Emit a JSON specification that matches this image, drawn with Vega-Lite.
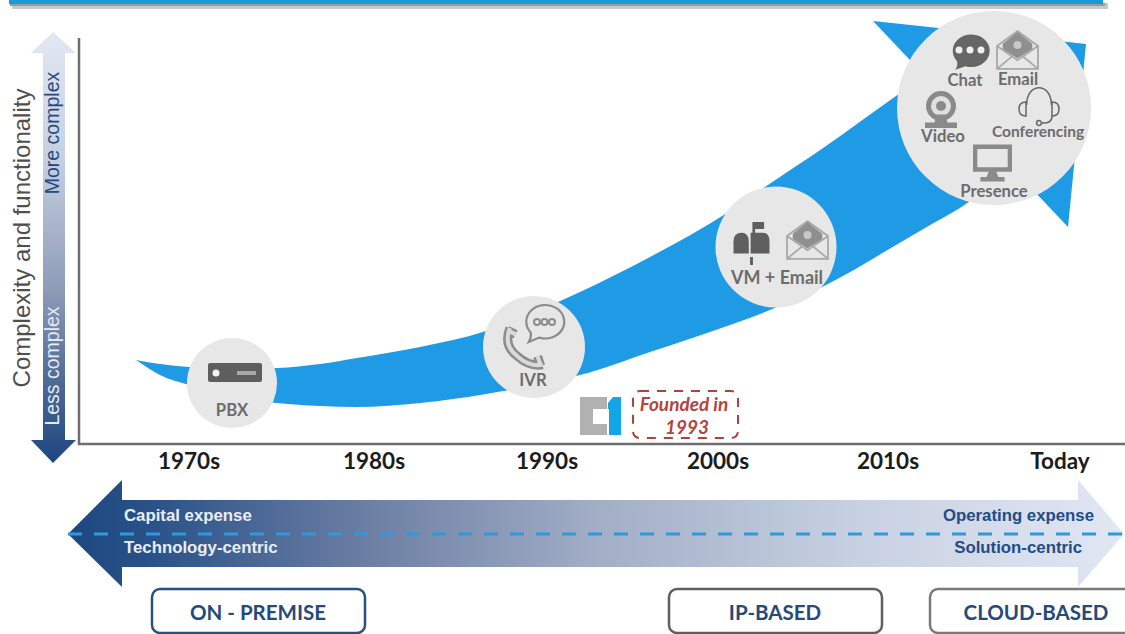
{
"$schema":"https://vega.github.io/schema/vega-lite/v6.json",
"width":1125,"height":634,"padding":0,
"autosize":{"type":"fit","contains":"padding"},
"background":"white",
"config":{"view":{"stroke":null},"text":{"font":"Lato","fontWeight":"bold","baseline":"middle","align":"center"}},
"data":{"values":[{}]},
"encoding":{
 "x":{"field":"x","type":"quantitative","scale":{"domain":[0,1125],"nice":false,"zero":false},"axis":null},
 "y":{"field":"y","type":"quantitative","scale":{"domain":[0,634],"reverse":true,"nice":false,"zero":false},"axis":null}
},
"layer":[
{"data":{"values":[{"x":12,"x2":1108,"y":3,"y2":9}]},"mark":{"type":"rect","fill":"#c9c9c9"},"encoding":{"x2":{"field":"x2"},"y2":{"field":"y2"}}},
{"data":{"values":[{"x":10,"x2":1105,"y":3,"y2":6}]},"mark":{"type":"rect","fill":"#9a9a9a"},"encoding":{"x2":{"field":"x2"},"y2":{"field":"y2"}}},
{"data":{"values":[{"x":9,"x2":1103,"y":0,"y2":4}]},"mark":{"type":"rect","fill":"#1B9ADB"},"encoding":{"x2":{"field":"x2"},"y2":{"field":"y2"}}},

{"data":{"values":[
 {"x":136,"y":360,"y2":360},{"x":160,"y":364,"y2":375},{"x":189,"y":367,"y2":385},{"x":230,"y":369,"y2":396},
 {"x":277,"y":368,"y2":403},{"x":320,"y":364,"y2":406},{"x":357,"y":358,"y2":407},{"x":420,"y":347,"y2":403},
 {"x":486,"y":331,"y2":394},{"x":503,"y":325,"y2":391},{"x":558,"y":302,"y2":380},{"x":580,"y":292,"y2":375},
 {"x":650,"y":257,"y2":352},{"x":730,"y":211,"y2":325},{"x":765,"y":187,"y2":312},{"x":826,"y":146,"y2":285},
 {"x":896,"y":96,"y2":245},{"x":925,"y":76,"y2":228},{"x":970,"y":66,"y2":201},{"x":1010,"y":58,"y2":166}
]},"mark":{"type":"area","orient":"vertical","interpolate":"monotone","fill":"#1F9BE6"},"encoding":{"y2":{"field":"y2"}}},
{"data":{"values":[{"x":873,"y":21,"y2":21},{"x":1068,"y":42,"y2":227},{"x":1086,"y":44,"y2":44}]},
 "mark":{"type":"area","orient":"vertical","fill":"#1F9BE6"},"encoding":{"y2":{"field":"y2"}}},

{"data":{"values":[{"x":79,"y":38,"x2":79,"y2":445},{"x":78,"y":444,"x2":1125,"y2":444}]},
 "mark":{"type":"rule","stroke":"#6e6e6e","strokeWidth":2.5,"clip":true},"encoding":{"x2":{"field":"x2"},"y2":{"field":"y2"}}},

{"data":{"values":[{"y":32,"x":53,"x2":53},{"y":53,"x":31,"x2":76},{"y":53.01,"x":43,"x2":65},{"y":440,"x":43,"x2":65},{"y":440.01,"x":31,"x2":76},{"y":463,"x":53,"x2":53}]},
 "mark":{"type":"area","orient":"horizontal","fill":{"gradient":"linear","x1":0,"y1":0,"x2":0,"y2":1,"stops":[{"offset":0,"color":"#E2E8F3"},{"offset":0.3,"color":"#C5CFE0"},{"offset":0.6,"color":"#8D9BB8"},{"offset":0.8,"color":"#516C98"},{"offset":1,"color":"#1C4780"}]}},
 "encoding":{"x2":{"field":"x2"}}},
{"data":{"values":[{"x":53,"y":133,"label":"More complex"}]},"mark":{"type":"text","font":"Liberation Sans","fontWeight":"normal","fontSize":19.5,"angle":270,"fill":"#24497F"},"encoding":{"text":{"field":"label"}}},
{"data":{"values":[{"x":53,"y":366,"label":"Less complex"}]},"mark":{"type":"text","font":"Liberation Sans","fontWeight":"normal","fontSize":19.5,"angle":270,"fill":"#E6EAF2"},"encoding":{"text":{"field":"label"}}},
{"data":{"values":[{"x":23,"y":238,"label":"Complexity and functionality"}]},"mark":{"type":"text","font":"Liberation Sans","fontWeight":"normal","fontSize":24,"angle":270,"fill":"#4F4F4F"},"encoding":{"text":{"field":"label"}}},

{"data":{"values":[{"x":232,"y":383}]},"mark":{"type":"point","shape":"circle","filled":true,"size":8100,"fill":"#E7E7E7","opacity":1}},
{"data":{"values":[{"x":534,"y":347}]},"mark":{"type":"point","shape":"circle","filled":true,"size":10404,"fill":"#E7E7E7","opacity":1}},
{"data":{"values":[{"x":776,"y":247}]},"mark":{"type":"point","shape":"circle","filled":true,"size":14641,"fill":"#E7E7E7","opacity":1}},
{"data":{"values":[{"x":994,"y":108}]},"mark":{"type":"point","shape":"circle","filled":true,"size":37636,"fill":"#E7E7E7","opacity":1}},

{"data":{"values":[{"x":208,"x2":262,"y":363,"y2":382}]},"mark":{"type":"rect","fill":"#5E5E5E","cornerRadius":2},"encoding":{"x2":{"field":"x2"},"y2":{"field":"y2"}}},
{"data":{"values":[{"x":216,"y":373}]},"mark":{"type":"point","shape":"circle","filled":true,"size":49,"fill":"#F2F2F2","opacity":1}},
{"data":{"values":[{"x":237,"x2":256,"y":371,"y2":375}]},"mark":{"type":"rect","fill":"#A8A8A8"},"encoding":{"x2":{"field":"x2"},"y2":{"field":"y2"}}},

{"data":{"values":[{"x":525,"y":348}]},"mark":{"type":"point","filled":false,"shape":"M-.85,-.85 L-.45,-.65 M-.72,-.95 Q-1.05,-.1 -.35,.4 Q.2,.9 .85,.8 M.75,.85 L.6,.4","size":1764,"stroke":"#8C8C8C","strokeWidth":9,"opacity":1}},
{"data":{"values":[{"x":525,"y":348}]},"mark":{"type":"point","filled":false,"shape":"M-.85,-.85 L-.45,-.65 M-.72,-.95 Q-1.05,-.1 -.35,.4 Q.2,.9 .85,.8 M.75,.85 L.6,.4","size":1764,"stroke":"#DADADA","strokeWidth":4,"opacity":1}},
{"data":{"values":[{"x":544,"y":322}]},"mark":{"type":"point","filled":true,"shape":"M-.7,.55 A1 .88 0 1 1 -.25,.82 L-.8,1.05 Q-.65,.8 -.7,.55 Z","size":1444,"fill":"#E7E7E7","stroke":"#8C8C8C","strokeWidth":2.2,"opacity":1}},
{"data":{"values":[{"x":537,"y":322},{"x":544.5,"y":322},{"x":552,"y":322}]},"mark":{"type":"point","shape":"circle","filled":false,"size":36,"stroke":"#8C8C8C","strokeWidth":2,"opacity":1}},

{"data":{"values":[{"x":751.5,"y":243.5}]},"mark":{"type":"point","filled":true,"fill":"#5F5F5F","opacity":1,"size":1296,"shape":"M-1,.55 L-1,-.1 Q-1,-.6 -.55,-.6 Q-.15,-.6 -.15,-.1 L-.15,.55 Z M-.05,-.6 L.65,-.6 Q1,-.6 1,-.1 L1,.55 L-.05,.55 L-.05,-.1 Z M.05,-1.2 L.7,-1.2 L.7,-.8 L.2,-.8 L.2,-.3 L.05,-.3 Z M-.08,.75 L.08,.75 L.08,1.2 L-.08,1.2 Z"}},

{"data":{"values":[{"x":807.5,"y":240},{"x":1017.5,"y":50}]},"mark":{"type":"point","filled":false,"stroke":"#A8A8A8","strokeWidth":1.8,"opacity":1,"size":1680,"shape":"M-1,-.2 L0,-.92 L1,-.2 L1,.92 L-1,.92 Z M-1,.92 L-.25,.3 M1,.92 L.25,.3 M-1,-.2 L0,.5 L1,-.2"}},
{"data":{"values":[{"x":807.5,"y":240},{"x":1017.5,"y":50}]},"mark":{"type":"point","filled":true,"fill":"#8F8F8F","opacity":1,"size":1680,"shape":"M-.72,-.3 L0,-.88 L.72,-.3 L.72,-.05 L0,.42 L-.72,-.05 Z"}},
{"data":{"values":[{"x":807.5,"y":235},{"x":1017.5,"y":45}]},"mark":{"type":"point","shape":"circle","filled":true,"fill":"#C8C8C8","size":64,"opacity":1}},

{"data":{"values":[{"x":970,"y":51}]},"mark":{"type":"point","filled":true,"fill":"#666666","opacity":1,"size":1368,"shape":"M-.7,.55 A1 .88 0 1 1 -.25,.82 L-.8,1.02 Q-.65,.8 -.7,.55 Z"}},
{"data":{"values":[{"x":959,"y":50},{"x":970,"y":50},{"x":981,"y":50}]},"mark":{"type":"point","shape":"circle","filled":true,"fill":"#F0F0F0","size":49,"opacity":1}},

{"data":{"values":[{"x":941,"y":106}]},"mark":{"type":"point","shape":"circle","filled":true,"fill":"#E0E0E0","stroke":"#8A8A8A","strokeWidth":5,"size":625,"opacity":1}},
{"data":{"values":[{"x":941,"y":106}]},"mark":{"type":"point","shape":"circle","filled":true,"fill":"#8A8A8A","size":100,"opacity":1}},
{"data":{"values":[{"x":941,"y":122.4}]},"mark":{"type":"point","filled":true,"fill":"#8A8A8A","opacity":1,"size":1024,"shape":"M-.3,-.5 L.3,-.5 L.4,0 L1,0 L1,.35 L-1,.35 L-1,0 L-.4,0 Z"}},

{"data":{"values":[{"x":1039,"y":106}]},"mark":{"type":"point","filled":false,"stroke":"#666666","strokeWidth":1.5,"opacity":1,"size":1600,"shape":"M-.62,-.05 C-.62,-1.2 .62,-1.2 .62,-.05 M-.65,-.2 L-.65,.5 Q-1,.5 -1,.15 Q-1,-.2 -.65,-.2 Z M.65,-.2 L.65,.5 Q1,.5 1,.15 Q1,-.2 .65,-.2 Z M.65,.5 Q.65,.9 .12,.85 M.12,.85 A.12 .12 0 1 0 -.12,.85 A.12 .12 0 1 0 .12,.85"}},

{"data":{"values":[{"x":992.5,"y":163}]},"mark":{"type":"point","filled":true,"fill":"#8A8A8A","opacity":1,"size":1520,"shape":"M-1,-.95 L1,-.95 L1,.45 L-1,.45 Z M-.78,-.72 L-.78,.22 L.78,.22 L.78,-.72 Z M-.2,.45 L.2,.45 L.3,.72 L-.3,.72 Z M-.62,.72 L.62,.72 L.62,.95 L-.62,.95 Z"}},

{"data":{"values":[
 {"x":232,"y":411,"label":"PBX"},{"x":533,"y":381,"label":"IVR"},
 {"x":965,"y":81,"label":"Chat"},{"x":1018,"y":80,"label":"Email"},{"x":943,"y":137,"label":"Video"},
 {"x":994,"y":192,"label":"Presence"}
]},"mark":{"type":"text","fontSize":16.7,"fill":"#6C6C6C"},"encoding":{"text":{"field":"label"}}},
{"data":{"values":[{"x":777,"y":279,"label":"VM + Email"}]},"mark":{"type":"text","fontSize":18,"fill":"#6C6C6C"},"encoding":{"text":{"field":"label"}}},
{"data":{"values":[{"x":1038,"y":132,"label":"Conferencing"}]},"mark":{"type":"text","fontSize":15.5,"fill":"#6C6C6C"},"encoding":{"text":{"field":"label"}}},

{"data":{"values":[{"x":580,"y":397}]},"mark":{"type":"point","filled":true,"fill":"#B1B1B1","opacity":1,"size":4,"shape":"M0,0 L27,0 L27,12 L13,12 L13,27 L27,27 L27,38 L0,38 Z"}},
{"data":{"values":[{"x":580,"y":397}]},"mark":{"type":"point","filled":true,"fill":"#12A5E8","opacity":1,"size":4,"shape":"M28,6 L33,0 L41,0 L41,38 L29,38 L29,12 L28,12 Z"}},
{"data":{"values":[{"x":633,"x2":738,"y":391,"y2":438}]},"mark":{"type":"rect","fillOpacity":0,"stroke":"#B5403A","strokeWidth":2,"strokeDash":[9,8],"cornerRadius":7},"encoding":{"x2":{"field":"x2"},"y2":{"field":"y2"}}},
{"data":{"values":[{"x":684,"y":405,"label":"Founded in"},{"x":687,"y":428,"label":"1993"}]},"mark":{"type":"text","fontSize":19,"fontStyle":"italic","font":"Lato","fill":"#B5433E"},"encoding":{"text":{"field":"label"}}},

{"data":{"values":[{"x":189,"y":462,"label":"1970s"},{"x":374,"y":462,"label":"1980s"},{"x":547,"y":462,"label":"1990s"},{"x":718,"y":462,"label":"2000s"},{"x":888,"y":462,"label":"2010s"},{"x":1060,"y":462,"label":"Today"}]},
 "mark":{"type":"text","fontSize":22.5,"fill":"#1C1C1C"},"encoding":{"text":{"field":"label"}}},

{"data":{"values":[{"x":68,"y":534,"y2":534},{"x":122,"y":480,"y2":587},{"x":122.01,"y":500,"y2":567},{"x":1078,"y":500,"y2":567},{"x":1078.01,"y":480,"y2":587},{"x":1124,"y":534,"y2":534}]},
 "mark":{"type":"area","orient":"vertical","fill":{"gradient":"linear","x1":0,"y1":0,"x2":1,"y2":0,"stops":[{"offset":0,"color":"#1C4780"},{"offset":0.08,"color":"#2A5288"},{"offset":0.28,"color":"#6B7EA3"},{"offset":0.5,"color":"#A2AEC6"},{"offset":0.75,"color":"#C8D1E2"},{"offset":1,"color":"#E1E7F3"}]}},
 "encoding":{"y2":{"field":"y2"}}},
{"data":{"values":[{"x":68,"y":534,"x2":1125,"y2":534}]},"mark":{"type":"rule","stroke":"#2A9CDD","strokeWidth":3,"strokeDash":[14,12],"clip":true},"encoding":{"x2":{"field":"x2"},"y2":{"field":"y2"}}},
{"data":{"values":[{"x":124,"y":516,"label":"Capital expense"},{"x":124,"y":548,"label":"Technology-centric"}]},"mark":{"type":"text","font":"Liberation Sans","fontSize":16.8,"align":"left","fill":"#E9EDF4"},"encoding":{"text":{"field":"label"}}},
{"data":{"values":[{"x":1094,"y":516,"label":"Operating expense"},{"x":1082,"y":548,"label":"Solution-centric"}]},"mark":{"type":"text","font":"Liberation Sans","fontSize":16.8,"align":"right","fill":"#234C86"},"encoding":{"text":{"field":"label"}}},

{"data":{"values":[{"x":152,"x2":365,"y":589,"y2":633}]},"mark":{"type":"rect","fill":"white","stroke":"#2B4F7F","strokeWidth":2.5,"cornerRadius":8,"clip":true},"encoding":{"x2":{"field":"x2"},"y2":{"field":"y2"}}},
{"data":{"values":[{"x":669,"x2":882,"y":589,"y2":633}]},"mark":{"type":"rect","fill":"white","stroke":"#5F5F5F","strokeWidth":2.5,"cornerRadius":8,"clip":true},"encoding":{"x2":{"field":"x2"},"y2":{"field":"y2"}}},
{"data":{"values":[{"x":930,"x2":1145,"y":589,"y2":633}]},"mark":{"type":"rect","fill":"white","stroke":"#7A7A7A","strokeWidth":2.5,"cornerRadius":8,"clip":true},"encoding":{"x2":{"field":"x2"},"y2":{"field":"y2"}}},
{"data":{"values":[{"x":258,"y":614,"label":"ON - PREMISE"},{"x":775,"y":614,"label":"IP-BASED"},{"x":1036,"y":614,"label":"CLOUD-BASED"}]},"mark":{"type":"text","fontSize":20.5,"fill":"#24497A"},"encoding":{"text":{"field":"label"}}}
]
}
